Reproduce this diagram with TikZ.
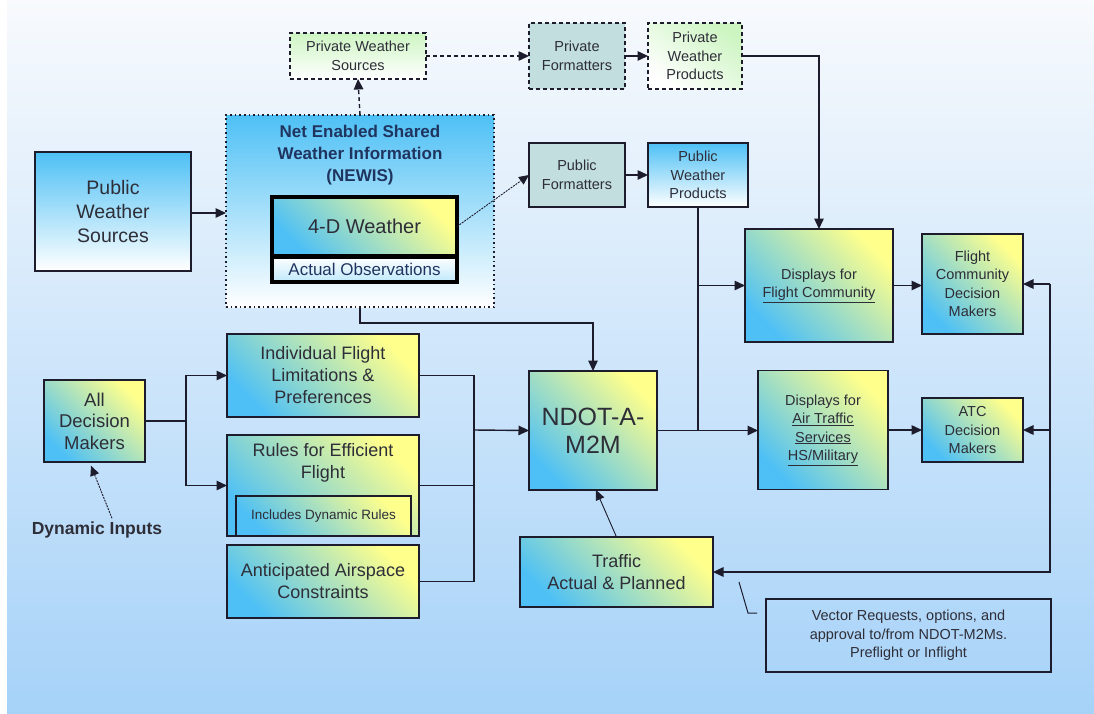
\documentclass[tikz,border=0pt]{standalone}
\usepackage{fontspec}
\setmainfont{Liberation Sans}
\usetikzlibrary{arrows.meta}

\definecolor{skyb}{HTML}{4EC0F5}
\definecolor{lemon}{HTML}{FFFF8C}
\definecolor{fmtfill}{HTML}{C2DEDE}
\definecolor{mint}{HTML}{CDF5C2}
\definecolor{bgtop}{HTML}{F8FAFD}
\definecolor{bgbot}{HTML}{A6D2F8}
\definecolor{edge}{HTML}{1C1C2C}
\definecolor{ink}{HTML}{2E2E38}
\definecolor{navy}{HTML}{1F3560}

\newcommand{\fsz}[2]{\fontsize{#1}{#2}\selectfont}

\tikzset{
  box/.style={draw=edge, line width=1.4pt, inner sep=0pt, outer sep=0pt, align=center, text=ink},
  gbox/.style={box, bottom color=skyb, top color=lemon, shading angle=-45},
  wbox/.style={box, bottom color=white, top color=skyb},
  privbox/.style={box, dash pattern=on 4pt off 3pt, line width=1.3pt, font=\fsz{14.5}{18.5}},
  smallbox/.style={font=\fsz{14.5}{18.5}},
  midbox/.style={font=\fsz{18}{22}},
  link/.style={draw=edge, line width=1.4pt},
  arr/.style={link, -{Triangle[length=10.5pt,width=9.5pt]}},
  thinarr/.style={draw=edge, line width=0.9pt, -{Triangle[length=10pt,width=9pt]}},
  dasharr/.style={arr, dash pattern=on 4pt off 3pt},
  dotarr/.style={thinarr, dash pattern=on 2pt off 1pt},
}

\begin{document}
\begin{tikzpicture}[x=1pt, y=-1pt]
  %%%%% BACKGROUND %%%%%
  \useasboundingbox (0,0) rectangle (1094,713);
  \fill[white] (0,0) rectangle (1094,713);
  \shade[top color=bgtop, bottom color=bgbot] (7,0) rectangle (1094,713);

  %%%%% WEATHER %%%%%
  \node[privbox, top color=mint, bottom color=white, minimum width=136pt, minimum height=46pt] (privsrc) at (358,56) {Private Weather\\Sources};
  \node[privbox, fill=fmtfill, minimum width=96pt, minimum height=66pt] (privfmt) at (577,56) {Private\\Formatters};
  \node[privbox, bottom color=white, top color=mint, shading angle=-35, minimum width=94pt, minimum height=66pt] (privprod) at (695,56) {Private\\Weather\\Products};

  \node[wbox, font=\fsz{19.5}{24}, minimum width=156pt, minimum height=119pt] (pws) at (113,211.5) {Public\\Weather\\Sources};

  \node[box, dash pattern=on 1.6pt off 3pt, line width=2pt, top color=skyb, bottom color=white, minimum width=268pt, minimum height=192pt] (newis) at (360,211) {};
  \node[font=\bfseries\fsz{17}{22}, text=navy, align=center] (newist) at (360,155) {Net Enabled Shared\\Weather Information\\(NEWIS)};
  \node[gbox, draw=black, line width=4pt, font=\fsz{20}{24}, minimum width=185pt, minimum height=59pt] (wx4d) at (364.5,226.5) {4-D Weather};
  \node[box, draw=black, line width=4pt, top color=white, bottom color=skyb!35, text=navy, font=\fsz{17}{20}, minimum width=185pt, minimum height=25pt] (obs) at (364.5,269) {Actual Observations};

  \node[box, smallbox, fill=fmtfill, minimum width=96pt, minimum height=64pt] (pubfmt) at (577,175) {Public\\Formatters};
  \node[wbox, smallbox, minimum width=100pt, minimum height=64pt] (pubprod) at (698,175) {Public\\Weather\\Products};

  %%%%% DISPLAYS %%%%%
  \node[gbox, smallbox, minimum width=148pt, minimum height=113pt] (dfc) at (819,285.5) {Displays for\\\underline{Flight Community}};
  \node[gbox, smallbox, minimum width=101pt, minimum height=100pt] (fcdm) at (972.5,284) {Flight\\Community\\Decision\\Makers};
  \node[gbox, smallbox, minimum width=130pt, minimum height=119pt] (dats) at (823,430) {Displays for\\\underline{Air Traffic}\\\underline{Services}\\\underline{HS/Military}};
  \node[gbox, smallbox, minimum width=101pt, minimum height=64pt] (atc) at (972.5,430) {ATC\\Decision\\Makers};

  %%%%% INPUTS %%%%%
  \node[gbox, font=\fsz{18.5}{21.5}, minimum width=101pt, minimum height=82pt] (adm) at (94.5,421) {All\\Decision\\Makers};
  \node[font=\bfseries\fsz{17.5}{20}, text=ink] (dyn) at (97,530) {Dynamic Inputs};
  \node[gbox, midbox, minimum width=192pt, minimum height=83pt] (ifl) at (323,375.5) {Individual Flight\\Limitations \&\\Preferences};
  \node[gbox, minimum width=192pt, minimum height=101pt] (rules) at (323,485.5) {};
  \node[midbox, text=ink, align=center] (rulest) at (323,463) {Rules for Efficient\\Flight};
  \node[gbox, font=\fsz{13.5}{16}, minimum width=175pt, minimum height=40pt] (dynr) at (323.5,516) {Includes Dynamic Rules};
  \node[gbox, midbox, minimum width=192pt, minimum height=73pt] (ant) at (323,581.5) {Anticipated Airspace\\Constraints};

  \node[gbox, font=\fsz{25}{28}, minimum width=128pt, minimum height=119pt] (ndot) at (593,430.5) {NDOT-A-\\M2M};
  \node[gbox, midbox, minimum width=193pt, minimum height=70pt] (traffic) at (616.5,572) {Traffic\\Actual \& Planned};
  \node[box, smallbox, minimum width=285pt, minimum height=73pt] (vecbox) at (908.5,635.5) {Vector Requests, options, and\\approval to/from NDOT-M2Ms.\\Preflight or Inflight};

  %%%%% CONNECTORS %%%%%
  \draw[arr] (pws.east |- 0,213) -- (newis.west |- 0,213);
  \draw[dasharr] (newis.north) -- (privsrc.south);
  \draw[dasharr] (privsrc.east) -- (privfmt.west);
  \draw[arr] (privfmt.east) -- (privprod.west);
  \draw[arr] (privprod.east) -| (dfc.north);
  \draw[dotarr] (wx4d.east) -- (pubfmt.west);
  \draw[arr] (pubfmt.east) -- (pubprod.west);
  \draw[link] (pubprod.south) -- (pubprod.south |- ndot.east);
  \draw[arr] (pubprod.south |- dfc.west) -- (dfc.west);
  \draw[arr] (ndot.east) -- (ndot.east -| dats.west);
  \draw[arr] (dfc.east) -- (dfc.east -| fcdm.west);
  \draw[arr] (dats.east) -- (atc.west);

  \coordinate (rtop) at (1050,284);
  \draw[arr] (rtop) -- (fcdm.east);
  \draw[arr] (rtop |- atc.east) -- (atc.east);
  \draw[arr] (rtop) |- (traffic.east);

  \draw[arr] (newis.south) -- ++(0,16) -| (ndot.north);
  \draw[thinarr] (traffic.north) -- ([xshift=3pt]ndot.south);

  \coordinate (admj) at (186,421);
  \draw[link] (adm.east) -- (admj);
  \draw[arr] (admj) |- (ifl.west);
  \draw[arr] (admj) |- (rules.west);
  \draw[dotarr, shorten >=4pt] ([xshift=15pt]dyn.north) -- ([xshift=-5pt]adm.south);

  \coordinate (inj) at (474,430);
  \draw[link] (ifl.east) -| (inj);
  \draw[link] (ant.east) -| (inj);
  \draw[link] (rules.east) -- (rules.east -| inj);
  \draw[arr] (inj) -- (ndot.west);

  \coordinate (calltip) at (739,582);
  \coordinate (callknee) at (748,613);
  \draw[draw=edge, line width=1pt] (calltip) -- (callknee) -- (callknee -| 757,0);
\end{tikzpicture}
\end{document}
